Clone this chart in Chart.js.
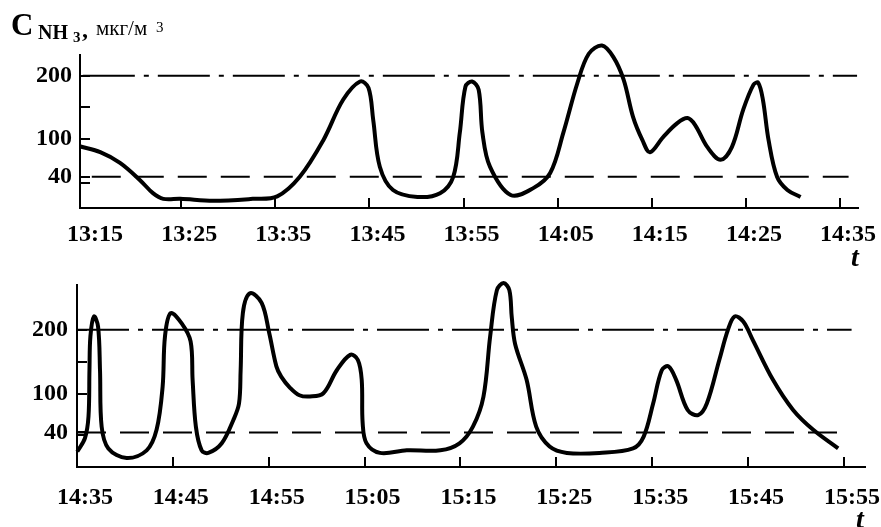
<!DOCTYPE html>
<html>
<head>
<meta charset="utf-8">
<script src="https://cdn.jsdelivr.net/npm/chart.js@4.4.1/dist/chart.umd.min.js"></script>
<style>
  body { margin: 0; background: #fff; }
  #wrap { position: relative; width: 881px; height: 527px; font-family: "Liberation Serif", "DejaVu Serif", serif; color: #000; }
  canvas { position: absolute; left: 0; }
  .lbl { position: absolute; white-space: nowrap; line-height: 1; }
</style>
</head>
<body>
<div id="wrap">
  <canvas id="top" width="881" height="270" style="top:0"></canvas>
  <canvas id="bottom" width="881" height="257" style="top:270px"></canvas>
  <div class="lbl" style="left:11px; top:9px; font-size:31px; font-weight:bold;">C</div>
  <div class="lbl" style="left:38px; top:22px; font-size:20px; font-weight:bold;">NH</div>
  <div class="lbl" style="left:73px; top:30px; font-size:15px; font-weight:bold;">3</div>
  <div class="lbl" style="left:82px; top:17px; font-size:24px; font-weight:bold;">,</div>
  <div class="lbl" style="left:96px; top:18px; font-size:21px;">мкг/м</div>
  <div class="lbl" style="left:156px; top:20px; font-size:15px;">3</div>
  <div class="lbl" style="left:851px; top:243px; font-size:28px; font-weight:bold; font-style:italic;">t</div>
  <div class="lbl" style="left:856px; top:505px; font-size:28px; font-weight:bold; font-style:italic;">t</div>
</div>
<script>
// время в минутах от начала каждой панели (13:15 и 14:35)
const topTime = [-0.7, 1.4, 3.5, 5.6, 7.0, 8.1, 9.9, 13.4, 17.6, 20.2, 22.6, 25.1, 27.2, 29.0, 29.9, 30.4, 31.1, 32.5, 35.1, 37.5,
    38.9, 39.6, 40.2, 40.9, 41.6, 42.0, 42.8, 45.0, 47.4, 49.2, 50.6, 52.1, 53.3, 54.7, 55.9, 57.0, 58.0, 59.0, 59.8, 61.2,
    62.7, 63.8, 64.6, 65.9, 67.3, 68.5, 69.7, 70.8, 71.3, 71.8, 72.4, 73.3, 74.4, 75.8];
const topConc = [88, 79, 62, 35, 14, 5, 5, 2, 5, 9, 40, 98, 162, 191, 181, 130, 56, 19, 8, 14,
    40, 110, 183, 191, 178, 110, 56, 11, 22, 46, 110, 189, 235, 248, 230, 194, 135, 98, 79, 103,
    125, 133, 122, 87, 67, 87, 146, 186, 189, 162, 98, 40, 19, 8];

const bottomTime = [0.03, 0.83, 1.2, 1.3, 1.4, 1.77, 2.2, 2.4, 2.57, 3.27, 5.18, 7.27, 8.3, 8.93, 9.18, 9.77, 10.92, 11.85, 12.06, 12.4,
    13.0, 13.7, 15.1, 16.3, 16.9, 17.07, 17.3, 18.04, 19.26, 20.05, 20.8, 21.3, 22.2, 23.2, 24.3, 25.7, 27.1, 28.5, 29.3, 29.7,
    29.8, 30.2, 31.6, 34.4, 37.9, 39.9, 41.3, 42.4, 43.1, 43.8, 44.5, 45.1, 45.35, 45.7, 46.9, 47.9, 49.3, 51.1, 54.5, 58.0, 59.1,
    60.1, 61.0, 61.7, 62.5, 63.7, 64.8, 65.7, 67.0, 67.9, 68.6, 69.5, 70.5, 72.6, 74.7, 76.8, 79.4];
const bottomConc = [10, 31, 65, 137, 190, 221, 205, 137, 49, 15, 0, 12, 44, 111, 190, 226, 210, 182, 122, 49,
    12, 8, 23, 59, 85, 137, 226, 257, 242, 195, 143, 127, 110, 98, 96, 101, 137, 161, 153, 122,
    54, 23, 8, 12, 12, 23, 49, 96, 190, 262, 273, 262, 220, 178, 122, 49, 18, 8, 8, 15, 33,
    85, 137, 143, 122, 75, 67, 85, 153, 200, 221, 213, 184, 122, 75, 44, 15];

const tickMinutes = [0, 10, 20, 30, 40, 50, 60, 70, 80];
const topTickLabels = ['13:15', '13:25', '13:35', '13:45', '13:55', '14:05', '14:15', '14:25', '14:35'];
const bottomTickLabels = ['14:35', '14:45', '14:55', '15:05', '15:15', '15:25', '15:35', '15:45', '15:55'];

const yTickValues = [40, 100, 150, 200];
const yTickLabels = ['40', '100', '', '200'];

const upperLevel = 200;  // штрих-пунктир
const lowerLevel = 40;   // штриховая

const labelFont = { family: '"Liberation Serif", serif', size: 24, weight: 'bold' };

// засечки внутрь области графика
const innerTicks = {
    id: 'innerTicks',
    afterDraw(chart, args, opts) {
        const { ctx, scales: { x, y }, chartArea } = chart;
        ctx.save();
        ctx.strokeStyle = '#000';
        ctx.lineWidth = 2;
        ctx.beginPath();
        tickMinutes.forEach(v => {
            if (v === 0) return;
            const px = Math.round(x.getPixelForValue(v));
            ctx.moveTo(px, chartArea.bottom);
            ctx.lineTo(px, chartArea.bottom - 10);
        });
        yTickValues.concat(opts.extra).forEach(v => {
            const py = Math.round(y.getPixelForValue(v));
            ctx.moveTo(chartArea.left, py);
            ctx.lineTo(chartArea.left + 10, py);
        });
        ctx.stroke();
        ctx.restore();
    }
};

function makePanel(id, times, conc, tickLabels, cfg) {
    const series = times.map((t, i) => ({ x: t, y: conc[i] }));
    new Chart(document.getElementById(id), {
        type: 'line',
        data: {
            datasets: [
                {
                    data: series,
                    borderColor: '#000',
                    borderWidth: 4,
                    pointRadius: 0,
                    tension: 0.35,
                    clip: false
                },
                {
                    data: [{ x: cfg.upperFrom, y: upperLevel }, { x: cfg.upperTo, y: upperLevel }],
                    borderColor: '#000',
                    borderWidth: 2,
                    borderDash: [52, 9, 5, 9],
                    pointRadius: 0
                },
                {
                    data: [{ x: cfg.lowerFrom, y: lowerLevel }, { x: cfg.lowerTo, y: lowerLevel }],
                    borderColor: '#000',
                    borderWidth: 2,
                    borderDash: [29, 14],
                    pointRadius: 0
                }
            ]
        },
        options: {
            responsive: false,
            animation: false,
            layout: { padding: cfg.padding },
            plugins: {
                legend: { display: false },
                tooltip: { enabled: false },
                innerTicks: { extra: cfg.extraTicks }
            },
            scales: {
                x: {
                    type: 'linear',
                    min: cfg.xMin,
                    max: cfg.xMax,
                    grid: { display: false, drawTicks: false },
                    border: { display: true, color: '#000', width: 2 },
                    afterBuildTicks: s => { s.ticks = tickMinutes.map(v => ({ value: v })); },
                    afterFit: s => { s.height = 40; s.paddingLeft = 0; s.paddingRight = 0; },
                    ticks: {
                        color: '#000',
                        font: labelFont,
                        padding: cfg.xPad,
                        labelOffset: 8,
                        maxRotation: 0,
                        autoSkip: false,
                        callback: v => tickLabels[tickMinutes.indexOf(v)]
                    }
                },
                y: {
                    min: cfg.yMin,
                    max: cfg.yMax,
                    grid: { display: false, drawTicks: false },
                    border: { display: true, color: '#000', width: 2 },
                    afterBuildTicks: s => { s.ticks = yTickValues.map(v => ({ value: v })); },
                    afterFit: s => { s.width = cfg.yWidth; s.paddingTop = 0; s.paddingBottom = 0; },
                    ticks: {
                        color: '#000',
                        font: labelFont,
                        padding: cfg.yPad,
                        autoSkip: false,
                        callback: v => yTickLabels[yTickValues.indexOf(v)]
                    }
                }
            }
        },
        plugins: [innerTicks]
    });
}

makePanel('top', topTime, topConc, topTickLabels, {
    xMin: -0.75, xMax: 81.9, upperFrom: -0.45, upperTo: 81.8, lowerFrom: 0.5, lowerTo: 80.9,
    yMin: -9.5, yMax: 233, yWidth: 80, extraTicks: [30], xPad: 12, yPad: 8,
    padding: { top: 55, right: 23, bottom: 22, left: 0 }
});

makePanel('bottom', bottomTime, bottomConc, bottomTickLabels, {
    xMin: 0, xMax: 82.2, upperFrom: 0, upperTo: 80.8, lowerFrom: 0, lowerTo: 79.4,
    yMin: -14, yMax: 270, yWidth: 77, extraTicks: [36], xPad: 16, yPad: 9,
    padding: { top: 15, right: 16, bottom: 20, left: 0 }
});
</script>
</body>
</html>
